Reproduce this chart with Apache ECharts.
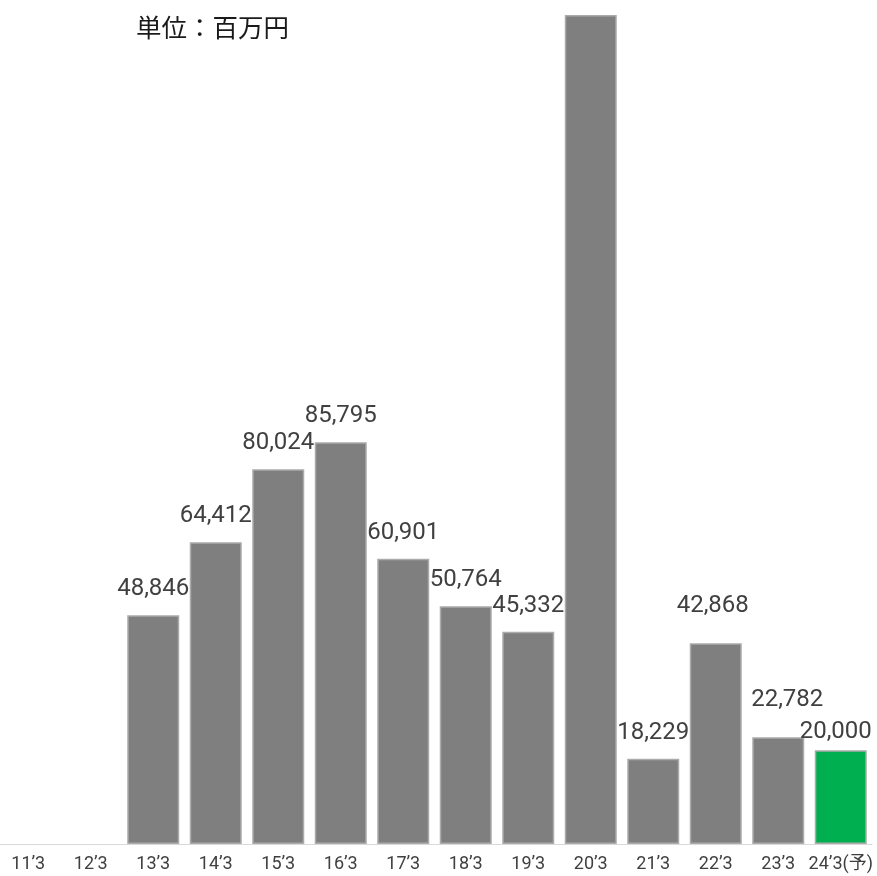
<!DOCTYPE html>
<html>
<head>
<meta charset="utf-8">
<script src="https://cdn.jsdelivr.net/npm/echarts@6/dist/echarts.min.js"></script>
<style>
  html, body { margin: 0; padding: 0; background: #fff; overflow: hidden; }
  /* the plot runs slightly past the left edge of the page */
  #chart { width: 880px; height: 876px; margin-left: -3px; }
</style>
</head>
<body>
<div id="chart"></div>
<script>
// Fiscal years (March year-end); the last one is a forecast
const categories = ["11’3", "12’3", "13’3", "14’3", "15’3", "16’3", "17’3", "18’3", "19’3", "20’3", "21’3", "22’3", "23’3", "24’3(予)"];
// Values in millions of yen; null = no figure for that year
const values = [null, null, 48846, 64412, 80024, 85795, 60901, 50764, 45332, 177000, 18229, 42868, 22782, 20000];
// Index of the forecast bar (drawn in green)
const forecastIndex = 13;
// Index whose value label runs off the top and is not shown
const hiddenLabelIndex = 9;
const unitText = "単位：百万円";

// Small nudges for labels that would otherwise crowd neighbours
const labelNudge = { 11: [-3, -11], 12: [9, -11], 13: [-5, 8] };

const chart = echarts.init(document.getElementById('chart'));

const seriesData = values.map((v, i) => {
  const item = { value: v };
  if (i === forecastIndex) item.itemStyle = { color: '#00b050' };
  if (i === hiddenLabelIndex) item.label = { show: false };
  if (labelNudge[i]) item.label = { offset: labelNudge[i] };
  return item;
});

chart.setOption({
  animation: false,
  backgroundColor: '#ffffff',
  title: {
    text: unitText,
    left: 134,
    top: 10,
    textStyle: {
      fontFamily: '"Noto Sans CJK JP", sans-serif',
      fontSize: 25.5,
      fontWeight: 'normal',
      color: '#1a1a1a'
    }
  },
  grid: { left: 0, right: 5, top: 1, bottom: 32, containLabel: false },
  xAxis: {
    type: 'category',
    data: categories,
    axisLine: { lineStyle: { color: '#d9d9d9', width: 1 } },
    axisTick: { show: false },
    axisLabel: {
      interval: 0,
      margin: 12,
      fontFamily: 'Roboto, "Noto Sans CJK JP", sans-serif',
      fontSize: 18,
      color: '#404040'
    }
  },
  yAxis: {
    type: 'value',
    min: 0,
    max: 180000,
    show: false,
    splitLine: { show: false }
  },
  series: [{
    type: 'bar',
    data: seriesData,
    barWidth: 52,
    itemStyle: {
      color: '#7f7f7f',
      borderColor: '#ababab',
      borderWidth: 1.5
    },
    label: {
      show: true,
      position: 'top',
      distance: 14,
      fontFamily: 'Roboto, sans-serif',
      fontSize: 24,
      color: '#404040',
      formatter: p => p.value == null ? '' : p.value.toLocaleString('en-US')
    }
  }]
});
</script>
</body>
</html>
